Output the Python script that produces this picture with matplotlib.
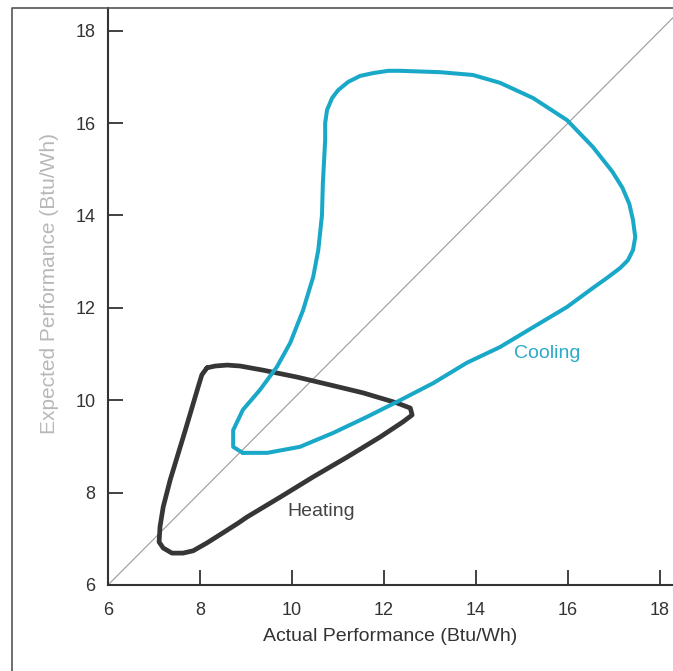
import matplotlib
matplotlib.use('Agg')
import matplotlib.pyplot as plt
from matplotlib.lines import Line2D

plt.rcParams['font.family'] = ['Liberation Sans', 'DejaVu Sans']

# cooling loop, traced clockwise from the lower tip (Btu/Wh)
cooling_x = [8.93, 8.72, 8.72, 8.93, 9.30, 9.67, 9.96, 10.24, 10.46, 10.57, 10.65, 10.67,
             10.72, 10.72, 10.76, 10.87, 11.00, 11.22, 11.48, 11.76, 12.09, 12.35, 13.22,
             13.93, 14.52, 15.24, 15.98, 16.54, 16.96, 17.18, 17.33, 17.41, 17.46, 17.41,
             17.30, 17.13, 16.85, 16.54, 15.98, 15.24, 14.52, 13.80, 13.07, 12.35, 11.63,
             10.89, 10.17, 9.46, 8.93]
cooling_y = [8.86, 8.99, 9.35, 9.79, 10.22, 10.72, 11.24, 11.95, 12.67, 13.25, 14.00, 14.70,
             15.63, 16.00, 16.28, 16.54, 16.71, 16.89, 17.02, 17.08, 17.13, 17.13, 17.10,
             17.04, 16.87, 16.54, 16.06, 15.48, 14.95, 14.60, 14.25, 13.90, 13.53, 13.25,
             13.03, 12.86, 12.65, 12.43, 12.02, 11.58, 11.15, 10.81, 10.37, 10.00, 9.64,
             9.29, 8.99, 8.86, 8.86]

# heating loop
heating_x = [8.15, 8.33, 8.59, 8.87, 9.37, 10.11, 10.83, 11.54, 12.28, 12.57, 12.61, 12.41,
             11.91, 11.20, 10.46, 9.74, 9.02, 8.83, 8.50, 8.15, 7.85, 7.63, 7.39, 7.20, 7.11,
             7.13, 7.20, 7.35, 7.68, 7.96, 8.04, 8.15]
heating_y = [10.70, 10.74, 10.76, 10.74, 10.65, 10.50, 10.33, 10.16, 9.94, 9.83, 9.68, 9.53,
             9.20, 8.77, 8.34, 7.90, 7.47, 7.34, 7.13, 6.91, 6.74, 6.69, 6.69, 6.80, 6.93,
             7.26, 7.69, 8.27, 9.35, 10.29, 10.55, 10.70]

ticks = [6, 8, 10, 12, 14, 16, 18]

fig = plt.figure(figsize=(6.73, 6.71), dpi=100)
ax = fig.add_axes([0.1605, 0.1282, 0.8395, 0.8599])

# outer frame of the figure (left and top edges only visible)
fig.add_artist(Line2D([12 / 673, 12 / 673, 1.0], [0.0, 663 / 671, 663 / 671],
                      transform=fig.transFigure, color='#555555', lw=1.2))

# line of equal expected and actual performance
ax.plot([6, 19], [6, 19], color='#9a9a9a', lw=0.8)

ax.plot(heating_x, heating_y, color='#363636', lw=3.4, solid_joinstyle='round',
        solid_capstyle='round')
ax.plot(cooling_x, cooling_y, color='#1aa8c8', lw=2.9, solid_joinstyle='round',
        solid_capstyle='round')

ax.text(10.63, 7.58, 'Heating', color='#444444', fontsize=14, ha='center', va='center')
ax.text(15.54, 11.02, 'Cooling', color='#2aaac8', fontsize=14, ha='center', va='center')

ax.set_xlim(6, 18.28)
ax.set_ylim(6, 18.49)
ax.set_xticks(ticks)
ax.set_yticks(ticks)
ax.tick_params(direction='in', length=11, width=1.3, colors='#333333', labelsize=13)
ax.tick_params(axis='x', pad=12)
ax.tick_params(axis='y', pad=9)

for side in ['top', 'right']:
    ax.spines[side].set_visible(False)
for side in ['left', 'bottom']:
    ax.spines[side].set_color('#333333')
    ax.spines[side].set_linewidth(1.5)

ax.set_xlabel('Actual Performance (Btu/Wh)', fontsize=14, color='#333333', labelpad=7)
ax.set_ylabel('Expected Performance (Btu/Wh)', fontsize=15, color='#b8b8b8')
ax.yaxis.set_label_coords(-0.087, 0.523)

fig.savefig('out.png', dpi=100)
